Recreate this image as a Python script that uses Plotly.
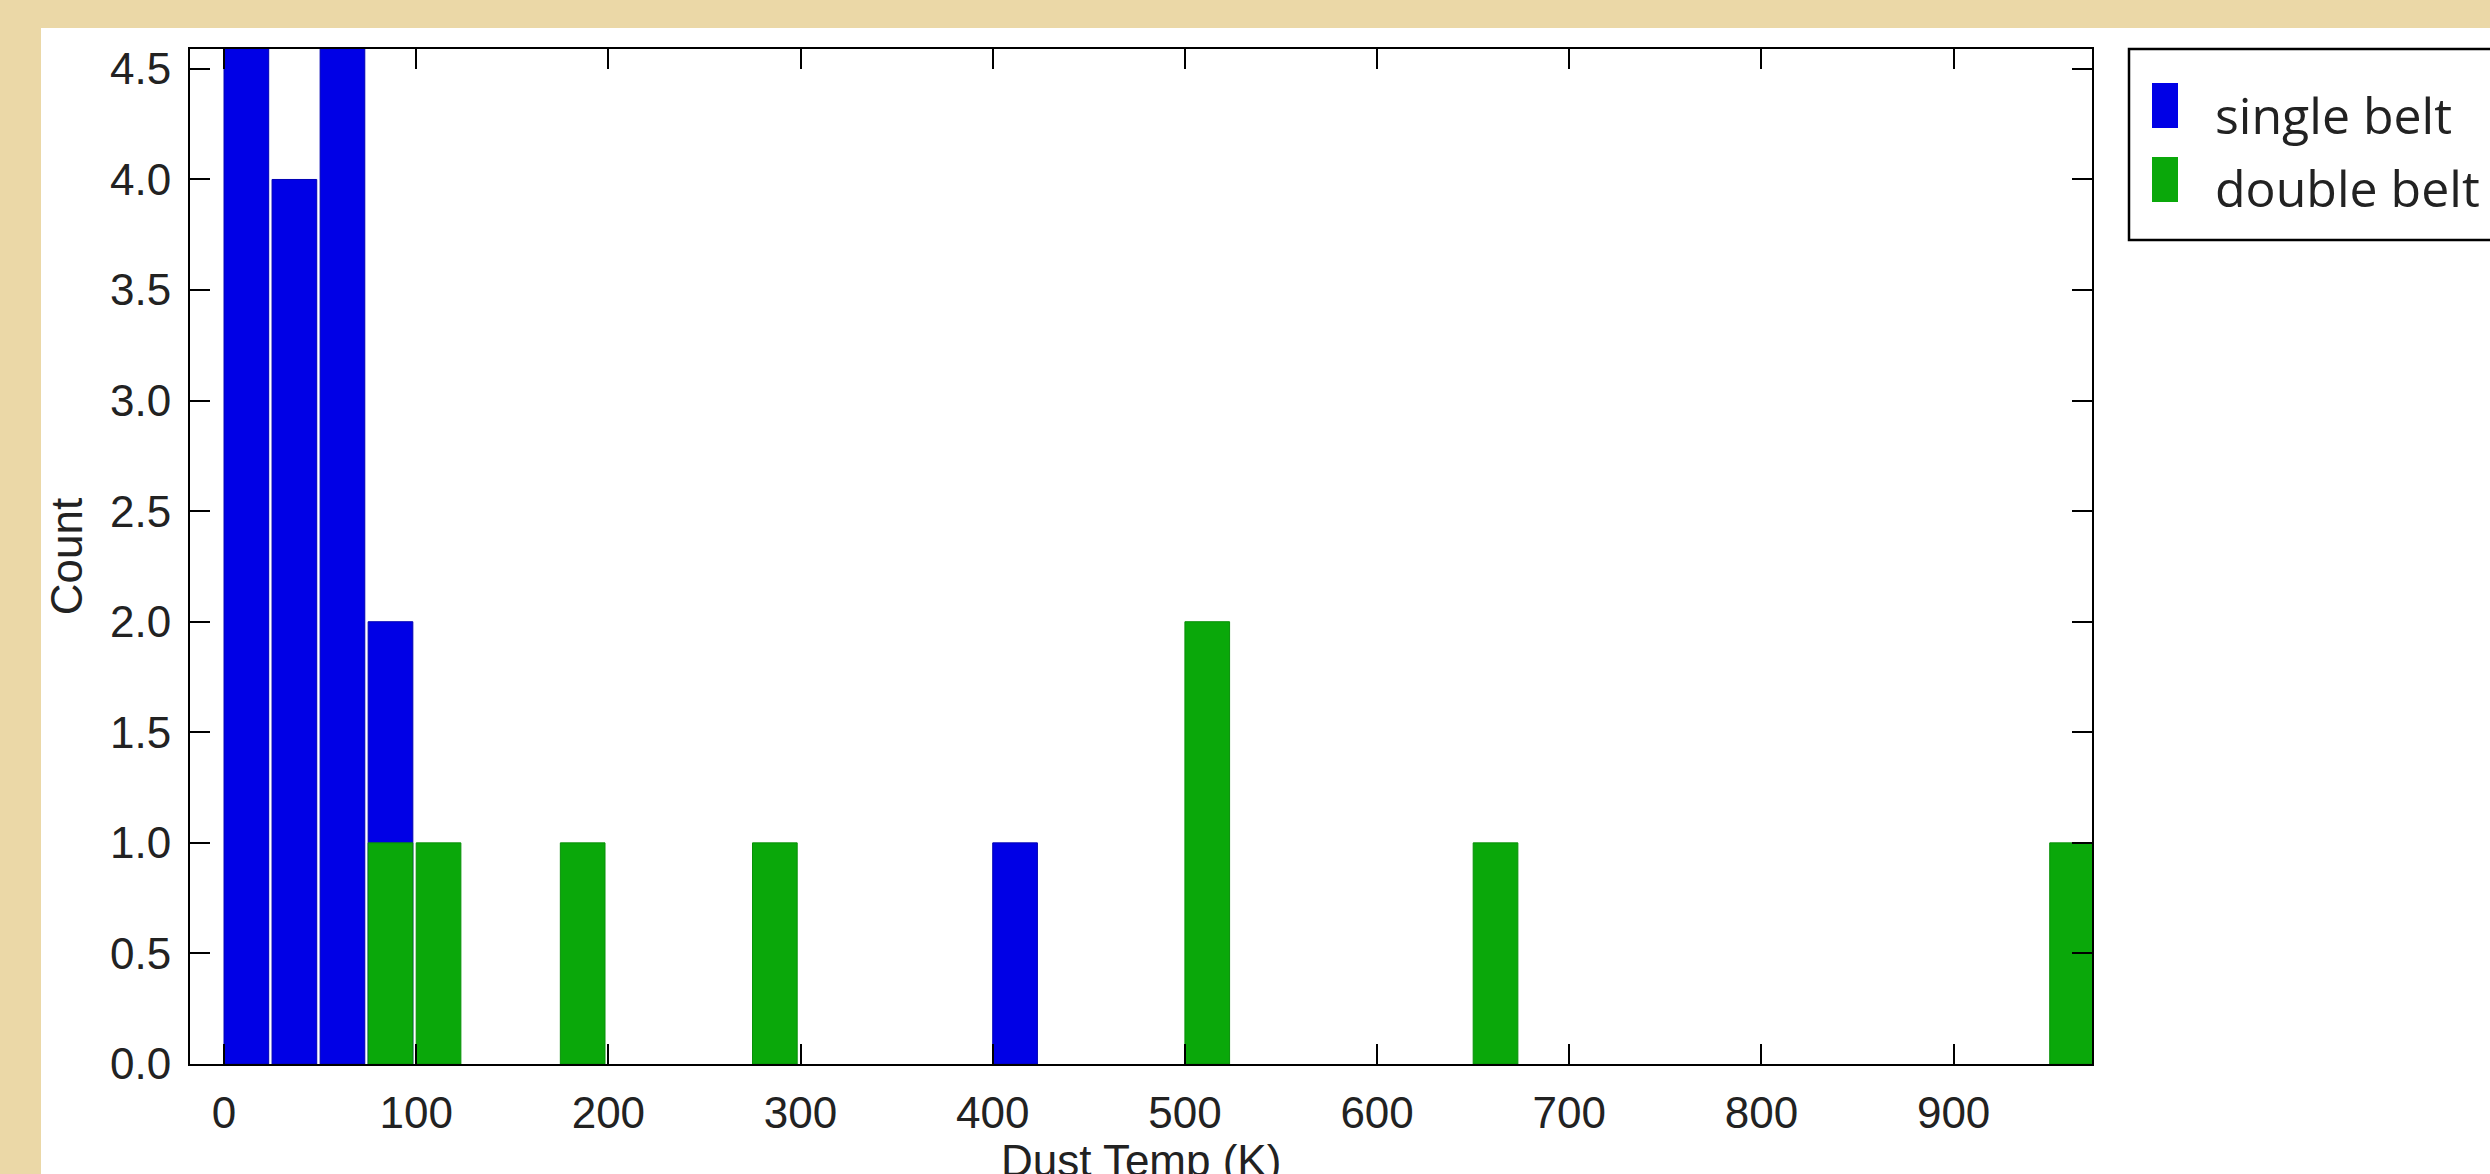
import plotly.graph_objects as go

# ---- data ----
bin_width = 25  # K
single_bin_start = [0, 25, 50, 75, 400]
single_counts = [5, 4, 5, 2, 1]
double_bin_start = [75, 100, 175, 275, 500, 650, 950]
double_counts = [1, 1, 1, 1, 2, 1, 1]
series_names = ["single belt", "double belt"]
x_tick_vals = [0, 100, 200, 300, 400, 500, 600, 700, 800, 900]
y_tick_vals = [0.0, 0.5, 1.0, 1.5, 2.0, 2.5, 3.0, 3.5, 4.0, 4.5]
x_title = "Dust Temp (K)"
y_title = "Count"

# ---- style ----
BLUE = "#0000e6"
GREEN = "#0aa80a"
TAN = "#ebd8a7"
TICK_FONT = dict(family="Liberation Sans, Arial, sans-serif", size=44, color="#222222")
LEG_FONT = dict(family="Open Sans, sans-serif", size=50, color="#222222")

W, H = 2490, 1174
ML, MR, MT, MB = 190, 398, 49, 110
PW, PH = W - ML - MR, H - MT - MB


def px_x(p):
    return (p - ML) / PW


def px_y(p):
    return (H - MB - p) / PH


fig = go.Figure()
fig.add_trace(go.Bar(
    x=single_bin_start, y=single_counts, name=series_names[0],
    offset=0, width=bin_width * 0.93,
    marker=dict(color=BLUE, line=dict(color="#0000b4", width=1)),
))
fig.add_trace(go.Bar(
    x=double_bin_start, y=double_counts, name=series_names[1],
    offset=0, width=bin_width * 0.93,
    marker=dict(color=GREEN, line=dict(color="#089008", width=1)),
))

axis_common = dict(
    ticks="inside", ticklen=20, tickwidth=2, tickcolor="black",
    showline=True, linewidth=2, linecolor="black", mirror="ticks",
    showgrid=False, zeroline=False, tickfont=TICK_FONT, automargin=False,
)

fig.update_layout(
    width=W, height=H,
    margin=dict(l=ML, r=MR, t=MT, b=MB, pad=0, autoexpand=False),
    paper_bgcolor=TAN, plot_bgcolor="white",
    barmode="overlay", showlegend=False,
    xaxis=dict(range=[-17.7, 972], tickvals=x_tick_vals,
               ticktext=[str(v) for v in x_tick_vals],
               ticklabelstandoff=9,
               **axis_common),
    yaxis=dict(range=[0, 4.59], tickvals=y_tick_vals,
               ticktext=[f"{v:.1f}" for v in y_tick_vals],
               ticklabelstandoff=8,
               title=dict(text=y_title, font=TICK_FONT, standoff=14),
               **axis_common),
)

# x-axis title: placed by hand because the reference lets it run off the bottom edge
fig.add_annotation(xref="paper", yref="paper", x=0.5, y=px_y(1134),
                   xanchor="center", yanchor="top", showarrow=False,
                   text=x_title, font=TICK_FONT)

# white panel behind the chart
fig.add_shape(type="rect", xref="paper", yref="paper", layer="below",
              x0=px_x(41), x1=px_x(2495), y0=px_y(1180), y1=px_y(28),
              fillcolor="white", line=dict(width=0))

# legend box (drawn by hand so the swatches keep their size)
fig.add_shape(type="rect", xref="paper", yref="paper",
              x0=px_x(2129), x1=px_x(2520), y0=px_y(240), y1=px_y(49),
              fillcolor="white", line=dict(color="black", width=2.5))
for name, col, top, bottom, ty in [
    (series_names[0], BLUE, 83, 128, 115),
    (series_names[1], GREEN, 157, 202, 188),
]:
    fig.add_shape(type="rect", xref="paper", yref="paper",
                  x0=px_x(2152), x1=px_x(2178), y0=px_y(bottom), y1=px_y(top),
                  fillcolor=col, line=dict(width=0))
    fig.add_annotation(xref="paper", yref="paper", x=px_x(2213), y=px_y(ty),
                       xanchor="left", yanchor="middle", showarrow=False,
                       text=name, font=LEG_FONT)

fig.write_html("out.html")
